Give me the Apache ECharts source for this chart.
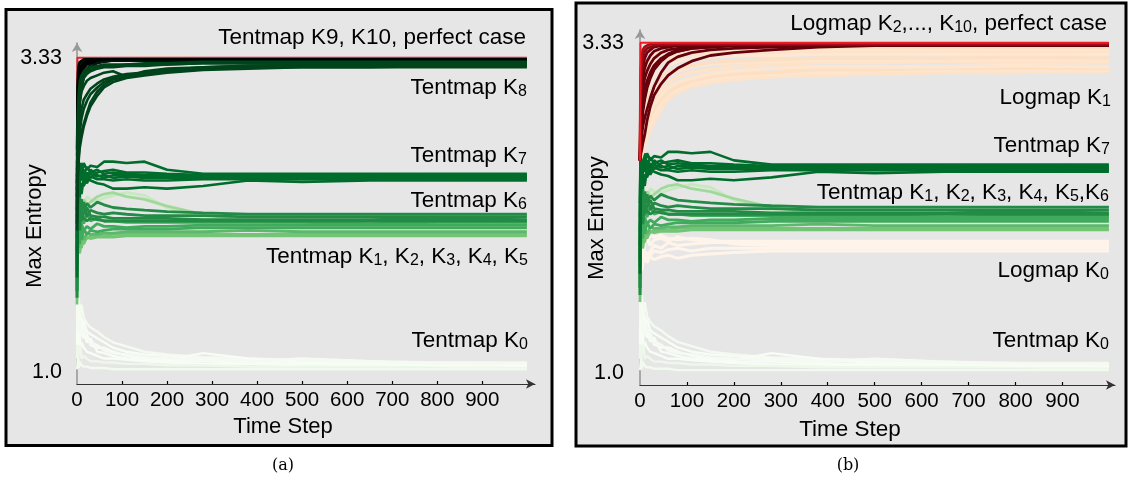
<!DOCTYPE html>
<html><head><meta charset="utf-8">
<script src="https://cdn.jsdelivr.net/npm/echarts@6/dist/echarts.min.js"></script>
<style>html,body{margin:0;padding:0;background:#fff}#c{width:1129px;height:480px}</style>
</head><body><div id="c"></div>
<script>
// ---------- data ----------
const timeSteps = [0, 1, 2, 4, 6, 10, 15, 22, 30, 45, 60, 80, 110, 150, 200, 280, 380, 500, 650, 800, 999];
const xTickLabels = [0, 100, 200, 300, 400, 500, 600, 700, 800, 900];
const yTickValues = [1.0, 3.33];

const perfectCase = [2.50,3.33,3.33,3.33,3.33,3.33,3.33,3.33,3.33,3.33,3.33,3.33,3.33,3.33,3.33,3.33,3.33,3.33,3.33,3.33,3.33];

const tentK0 = [
  [1.58,1.45,1.52,1.40,1.48,1.35,1.38,1.30,1.28,1.25,1.22,1.18,1.15,1.13,1.12,1.10,1.09,1.08,1.07,1.07,1.06],
  [1.55,1.58,1.50,1.55,1.42,1.50,1.40,1.36,1.33,1.30,1.26,1.22,1.19,1.15,1.13,1.11,1.10,1.09,1.08,1.07,1.07],
  [1.30,1.20,1.35,1.25,1.15,1.22,1.18,1.15,1.14,1.12,1.10,1.10,1.09,1.08,1.07,1.06,1.06,1.05,1.05,1.05,1.04],
  [1.10,1.30,1.05,1.20,1.25,1.10,1.12,1.10,1.08,1.08,1.07,1.07,1.06,1.06,1.05,1.05,1.04,1.04,1.04,1.04,1.03],
  [1.45,1.40,1.30,1.45,1.35,1.30,1.25,1.28,1.20,1.18,1.18,1.15,1.12,1.10,1.09,1.14,1.10,1.07,1.06,1.06,1.05],
  [1.02,1.05,1.10,1.03,1.08,1.05,1.04,1.04,1.03,1.03,1.03,1.02,1.02,1.02,1.02,1.02,1.02,1.02,1.02,1.02,1.02],
  [1.20,1.50,1.40,1.30,1.20,1.40,1.30,1.22,1.25,1.15,1.14,1.12,1.10,1.09,1.08,1.08,1.07,1.06,1.06,1.05,1.05],
  [1.60,1.35,1.45,1.30,1.38,1.28,1.32,1.25,1.22,1.20,1.16,1.14,1.13,1.11,1.10,1.09,1.08,1.10,1.08,1.06,1.06]
];
const tentK1toK5 = [
  [1.70,2.15,2.30,2.20,2.32,2.25,2.20,2.30,2.28,2.27,2.29,2.31,2.33,2.31,2.22,2.14,2.11,2.10,2.09,2.09,2.09],
  [1.80,2.35,2.10,2.25,2.15,2.22,2.28,2.24,2.26,2.30,2.32,2.33,2.30,2.28,2.23,2.17,2.12,2.10,2.10,2.10,2.10],
  [1.55,2.05,1.88,2.10,1.98,1.92,2.00,1.99,2.01,2.01,2.01,2.02,2.02,2.02,2.02,2.02,2.02,2.02,2.02,2.02,2.02],
  [1.50,1.85,1.95,1.90,1.88,1.97,1.95,2.00,1.99,2.00,2.00,2.00,2.01,2.01,2.01,2.01,2.01,2.01,2.01,2.01,2.01],
  [1.75,2.30,2.00,1.92,2.05,2.02,1.98,2.03,2.02,2.02,2.03,2.03,2.04,2.04,2.04,2.04,2.05,2.04,2.04,2.04,2.04],
  [1.60,1.95,2.15,2.00,2.10,1.98,2.06,2.02,2.05,2.04,2.05,2.06,2.06,2.06,2.06,2.07,2.07,2.07,2.07,2.07,2.07],
  [1.65,2.20,2.05,2.15,1.95,2.10,2.05,2.08,2.06,2.10,2.08,2.08,2.07,2.08,2.08,2.09,2.09,2.09,2.09,2.09,2.09],
  [1.90,2.45,2.25,2.05,2.20,2.15,2.10,2.18,2.12,2.14,2.12,2.12,2.11,2.11,2.11,2.11,2.11,2.11,2.10,2.11,2.11]
];
const tentK6 = [
  [1.70,2.40,2.20,2.35,2.15,2.28,2.20,2.25,2.22,2.26,2.24,2.22,2.21,2.20,2.19,2.18,2.17,2.17,2.17,2.17,2.17],
  [1.60,2.25,2.38,2.10,2.30,2.18,2.26,2.15,2.20,2.18,2.17,2.18,2.17,2.16,2.16,2.16,2.15,2.15,2.15,2.15,2.15],
  [1.85,2.50,2.15,2.28,2.22,2.12,2.18,2.22,2.16,2.15,2.15,2.14,2.14,2.14,2.14,2.13,2.13,2.13,2.13,2.14,2.13],
  [1.55,2.10,2.30,2.25,2.05,2.20,2.14,2.12,2.14,2.13,2.12,2.12,2.12,2.12,2.12,2.12,2.12,2.12,2.12,2.12,2.12]
];
const tentK7 = [
  [2.00,2.68,2.45,2.55,2.40,2.50,2.46,2.52,2.48,2.50,2.47,2.48,2.47,2.46,2.46,2.45,2.46,2.45,2.45,2.46,2.46],
  [1.80,2.40,2.60,2.35,2.50,2.45,2.55,2.50,2.53,2.52,2.56,2.56,2.55,2.56,2.50,2.47,2.47,2.47,2.47,2.47,2.47],
  [1.70,2.30,2.50,2.42,2.30,2.40,2.38,2.44,2.42,2.40,2.39,2.36,2.36,2.37,2.36,2.38,2.42,2.41,2.42,2.42,2.42],
  [2.10,2.55,2.35,2.48,2.52,2.42,2.50,2.45,2.47,2.45,2.46,2.44,2.45,2.44,2.44,2.44,2.44,2.44,2.44,2.44,2.44],
  [1.90,2.50,2.62,2.40,2.45,2.55,2.42,2.48,2.44,2.48,2.49,2.50,2.48,2.48,2.47,2.46,2.45,2.46,2.46,2.45,2.45],
  [1.75,2.35,2.25,2.45,2.38,2.32,2.44,2.40,2.45,2.43,2.43,2.42,2.43,2.42,2.42,2.43,2.43,2.43,2.43,2.43,2.43],
  [2.20,2.60,2.50,2.30,2.55,2.48,2.40,2.42,2.50,2.46,2.44,2.46,2.46,2.45,2.45,2.45,2.45,2.46,2.44,2.45,2.44]
];
const tentK8 = [
  [2.20,2.45,2.60,2.75,2.85,2.95,3.02,3.06,3.10,3.14,3.17,3.19,3.21,3.22,3.24,3.26,3.27,3.27,3.28,3.28,3.28],
  [2.10,2.35,2.50,2.62,2.70,2.78,2.84,2.92,3.00,3.08,3.13,3.17,3.19,3.21,3.23,3.25,3.26,3.27,3.27,3.27,3.27],
  [2.30,2.60,2.80,2.95,3.05,3.12,3.18,3.21,3.23,3.25,3.26,3.26,3.27,3.27,3.28,3.29,3.29,3.29,3.29,3.29,3.29],
  [2.25,2.55,2.75,2.90,3.00,3.08,3.12,3.16,3.18,3.20,3.22,3.23,3.19,3.23,3.25,3.26,3.27,3.28,3.28,3.28,3.28],
  [2.40,2.75,2.95,3.08,3.15,3.20,3.23,3.25,3.26,3.27,3.28,3.28,3.28,3.29,3.29,3.30,3.30,3.30,3.30,3.30,3.30],
  [2.15,2.40,2.55,2.68,2.78,2.88,2.95,3.01,3.06,3.11,3.15,3.18,3.20,3.22,3.24,3.25,3.26,3.26,3.26,3.26,3.26],
  [2.35,2.65,2.85,3.00,3.10,3.16,3.20,3.23,3.24,3.26,3.27,3.27,3.28,3.28,3.28,3.29,3.29,3.29,3.29,3.29,3.29],
  [2.05,2.30,2.45,2.58,2.66,2.74,2.82,2.90,2.97,3.05,3.11,3.15,3.18,3.20,3.22,3.24,3.25,3.26,3.26,3.27,3.27]
];
const tentK9K10 = [
  [2.50,2.90,3.10,3.20,3.26,3.29,3.30,3.31,3.31,3.32,3.32,3.32,3.32,3.32,3.32,3.32,3.32,3.32,3.32,3.32,3.32],
  [2.40,2.70,2.95,3.10,3.18,3.24,3.27,3.29,3.30,3.31,3.31,3.31,3.31,3.31,3.31,3.31,3.31,3.31,3.31,3.31,3.31],
  [2.60,3.00,3.15,3.25,3.28,3.30,3.31,3.31,3.32,3.32,3.32,3.32,3.32,3.32,3.32,3.32,3.32,3.32,3.32,3.32,3.32],
  [2.45,2.80,3.05,3.15,3.22,3.27,3.29,3.30,3.31,3.31,3.31,3.32,3.32,3.32,3.32,3.32,3.32,3.32,3.32,3.32,3.32],
  [2.55,2.60,2.75,2.90,3.05,3.15,3.22,3.25,3.28,3.30,3.30,3.31,3.31,3.31,3.31,3.31,3.31,3.31,3.31,3.31,3.31],
  [2.35,2.65,2.85,3.00,3.10,3.18,3.25,3.28,3.29,3.30,3.31,3.31,3.31,3.31,3.31,3.31,3.31,3.31,3.31,3.31,3.31],
  [2.30,2.55,2.70,2.85,2.98,3.10,3.18,3.23,3.26,3.29,3.30,3.31,3.31,3.31,3.31,3.31,3.31,3.31,3.31,3.31,3.31],
  [2.65,3.10,3.22,3.28,3.30,3.31,3.32,3.32,3.32,3.32,3.32,3.32,3.32,3.32,3.32,3.32,3.32,3.32,3.32,3.32,3.32]
];
const logK0 = [
  [1.65,1.75,1.85,1.80,1.90,1.85,1.80,1.86,1.90,1.88,1.92,1.90,1.91,1.92,1.92,1.92,1.92,1.92,1.92,1.92,1.92],
  [1.70,1.90,1.78,1.95,1.82,1.92,1.96,1.90,1.94,1.95,1.93,1.96,1.94,1.93,1.93,1.93,1.93,1.93,1.93,1.93,1.93],
  [1.60,1.70,1.80,1.72,1.78,1.80,1.78,1.82,1.80,1.82,1.83,1.81,1.83,1.84,1.85,1.86,1.86,1.86,1.86,1.86,1.86],
  [1.75,1.95,1.88,1.98,1.94,1.98,1.92,1.97,1.96,1.97,1.95,1.94,1.95,1.94,1.91,1.90,1.90,1.90,1.90,1.90,1.90],
  [1.68,1.82,1.75,1.85,1.88,1.80,1.85,1.83,1.86,1.85,1.87,1.88,1.86,1.88,1.88,1.88,1.88,1.88,1.88,1.88,1.88]
];
const logK1 = [
  [2.50,2.50,2.52,2.54,2.56,2.60,2.65,2.71,2.77,2.86,2.93,2.98,3.02,3.05,3.07,3.09,3.10,3.11,3.12,3.12,3.13],
  [2.50,2.51,2.54,2.57,2.60,2.64,2.70,2.76,2.82,2.90,2.96,3.00,3.04,3.07,3.09,3.11,3.12,3.13,3.14,3.14,3.14],
  [2.50,2.53,2.57,2.60,2.63,2.68,2.74,2.80,2.86,2.93,2.98,3.02,3.06,3.09,3.11,3.12,3.14,3.14,3.15,3.15,3.15],
  [2.50,2.54,2.58,2.62,2.66,2.72,2.78,2.84,2.90,2.96,3.01,3.05,3.08,3.11,3.13,3.15,3.16,3.16,3.16,3.17,3.16],
  [2.50,2.55,2.60,2.65,2.70,2.76,2.82,2.88,2.94,3.00,3.05,3.09,3.12,3.14,3.16,3.18,3.19,3.19,3.20,3.19,3.19],
  [2.50,2.56,2.62,2.68,2.74,2.80,2.87,2.94,3.00,3.06,3.10,3.13,3.16,3.18,3.19,3.20,3.21,3.21,3.21,3.21,3.21],
  [2.50,2.58,2.65,2.72,2.78,2.85,2.92,2.98,3.03,3.08,3.12,3.15,3.17,3.19,3.20,3.21,3.22,3.22,3.22,3.23,3.22],
  [2.50,2.60,2.68,2.76,2.84,2.92,2.99,3.05,3.10,3.14,3.17,3.20,3.22,3.23,3.24,3.24,3.25,3.25,3.25,3.25,3.25],
  [2.50,2.62,2.72,2.82,2.90,2.98,3.05,3.11,3.15,3.19,3.22,3.24,3.25,3.26,3.26,3.27,3.27,3.27,3.27,3.27,3.27],
  [2.50,2.64,2.76,2.86,2.95,3.03,3.10,3.16,3.20,3.23,3.25,3.26,3.27,3.28,3.28,3.28,3.28,3.28,3.29,3.28,3.28],
  [2.50,2.70,2.85,2.95,3.05,3.12,3.18,3.22,3.25,3.27,3.28,3.29,3.29,3.30,3.30,3.30,3.30,3.30,3.30,3.30,3.30]
];
const logK2toK10 = [
  [2.50,2.52,2.55,2.58,2.62,2.68,2.78,2.88,2.96,3.04,3.10,3.15,3.20,3.24,3.26,3.28,3.30,3.31,3.31,3.31,3.31],
  [2.50,2.53,2.60,2.68,2.74,2.80,2.86,2.94,3.02,3.12,3.19,3.23,3.26,3.28,3.29,3.30,3.31,3.31,3.31,3.31,3.31],
  [2.50,2.55,2.65,2.75,2.84,2.93,3.01,3.08,3.14,3.20,3.24,3.27,3.29,3.30,3.31,3.31,3.31,3.31,3.31,3.31,3.31],
  [2.50,2.58,2.70,2.80,2.88,2.97,3.04,3.10,3.15,3.21,3.25,3.28,3.30,3.31,3.32,3.32,3.32,3.32,3.32,3.32,3.32],
  [2.50,2.60,2.75,2.85,2.92,3.00,3.06,3.12,3.17,3.22,3.25,3.27,3.29,3.30,3.31,3.31,3.32,3.32,3.32,3.32,3.32],
  [2.50,2.65,2.82,2.93,3.00,3.08,3.13,3.18,3.22,3.26,3.28,3.29,3.30,3.31,3.31,3.31,3.31,3.31,3.31,3.31,3.31],
  [2.50,2.70,2.90,3.00,3.08,3.15,3.20,3.24,3.27,3.29,3.30,3.31,3.31,3.32,3.32,3.32,3.32,3.32,3.32,3.32,3.32],
  [2.50,2.75,2.95,3.08,3.15,3.22,3.26,3.28,3.30,3.31,3.31,3.32,3.32,3.32,3.32,3.32,3.32,3.32,3.32,3.32,3.32],
  [2.50,2.85,3.05,3.15,3.22,3.27,3.29,3.30,3.31,3.32,3.32,3.32,3.32,3.32,3.32,3.32,3.32,3.32,3.32,3.32,3.32],
  [2.50,3.00,3.15,3.24,3.28,3.30,3.31,3.32,3.32,3.32,3.32,3.32,3.32,3.32,3.32,3.32,3.32,3.32,3.32,3.32,3.32]
];

// ---------- styling ----------
const FONT = 'Liberation Sans';
const colK0 = ['#f7fcf5', '#f3faf0', '#f7fcf5', '#eef8ea', '#f7fcf5', '#f2f9ef', '#f7fcf5', '#f5fbf2'];
const colK15 = ['#c7e9c0', '#a1d99b', '#74c476', '#74c476', '#5cb96b', '#41ab5d', '#41ab5d', '#41ab5d'];
const colK6 = '#238b45', colK7 = '#006d2c', colK8 = '#00441b';
const colK910 = ['#03170c', '#000000', '#03170c', '#000000', '#062612', '#000000', '#03170c', '#000000'];
const colL0 = '#fff4ea';
const colL1 = ['#fee3c8', '#fee6ce', '#fde0c4', '#fee6ce', '#fee3c8', '#fee6ce', '#fde0c4', '#fee8d2', '#fee3c8', '#fee6ce', '#fde0c4'];
const colL2 = ['#67000d', '#67000d', '#5a0008', '#6e000e', '#67000d', '#67000d', '#67000d', '#7a0010', '#8a0a12', '#a50f15'];
const colRed = '#ee1c24';

function mk(g, line, color, width) {
  return {
    type: 'line', xAxisIndex: g, yAxisIndex: g,
    data: timeSteps.map((t, i) => [t, line[i]]),
    showSymbol: false, symbol: 'none', silent: true, animation: false,
    lineStyle: { color: color, width: width || 2 }
  };
}

const series = [];
// panel (a)
tentK0.forEach((l, i) => series.push(mk(0, l, colK0[i], 2.4)));
tentK1toK5.forEach((l, i) => series.push(mk(0, l, colK15[i], 2.8)));
tentK6.forEach(l => series.push(mk(0, l, colK6, 2.8)));
tentK7.forEach(l => series.push(mk(0, l, colK7, 2.6)));
series.push(mk(0, perfectCase, colRed, 2));
tentK9K10.forEach((l, i) => series.push(mk(0, l, colK910[i], 2.4)));
tentK8.forEach(l => series.push(mk(0, l, colK8, 2.6)));
// panel (b)
logK0.forEach(l => series.push(mk(1, l, colL0, 3)));
tentK0.forEach((l, i) => series.push(mk(1, l, colK0[i], 2.4)));
tentK1toK5.forEach((l, i) => series.push(mk(1, l, colK15[i], 2.8)));
tentK6.forEach(l => series.push(mk(1, l, colK6, 2.8)));
tentK7.forEach(l => series.push(mk(1, l, colK7, 2.6)));
logK1.forEach((l, i) => series.push(mk(1, l, colL1[i], 3.5)));
logK2toK10.forEach((l, i) => series.push(mk(1, l, colL2[i], 2.8)));
series.push(mk(1, perfectCase, colRed, 2));

function xAx(g, max) {
  return {
    gridIndex: g, type: 'value', min: 0, max: max, interval: 100,
    axisLine: { show: true, lineStyle: { color: '#333', width: 1.2 }, symbol: ['none', 'arrow'], symbolSize: [7, 9] },
    axisTick: { show: true, inside: true, length: 3, customValues: xTickLabels.slice(1), lineStyle: { color: '#000', width: 1.2 } },
    axisLabel: { customValues: xTickLabels, fontSize: 20.5, fontFamily: FONT, color: '#000', margin: 6 },
    splitLine: { show: false }
  };
}
function yAx(g, min, max, margin) {
  return {
    gridIndex: g, type: 'value', min: min, max: max,
    axisLine: { show: true, onZero: false, lineStyle: { color: '#999', width: 1.6 }, symbol: ['none', 'arrow'], symbolSize: [8, 9] },
    axisTick: { show: false },
    axisLabel: { customValues: yTickValues, formatter: v => (v === 1 ? '1.0' : String(v)), fontSize: 21.5, fontFamily: FONT, color: '#000', margin: margin },
    splitLine: { show: false }
  };
}

const richSub = { s: { fontSize: 16, fontFamily: FONT, verticalAlign: 'bottom', fill: '#000' } };
function label(x, y, text) {
  return {
    type: 'text', x: x, y: y, z: 100,
    style: { text: text, font: '22.5px "Liberation Sans"', fill: '#000', align: 'right', textAlign: 'right', verticalAlign: 'middle', textVerticalAlign: 'middle', rich: richSub }
  };
}
function plain(x, y, text, font, rot) {
  return {
    type: 'text', x: x, y: y, z: 100, rotation: rot || 0,
    style: { text: text, font: font, fill: '#000', align: 'center', textAlign: 'center', verticalAlign: 'middle', textVerticalAlign: 'middle' }
  };
}

const option = {
  animation: false,
  backgroundColor: '#ffffff',
  grid: [
    { left: 77, top: 43, width: 458, height: 341 },
    { left: 640, top: 30, width: 475, height: 355 }
  ],
  xAxis: [xAx(0, 1017), xAx(1, 1012)],
  yAxis: [yAx(0, 0.911, 3.44, 15), yAx(1, 0.915, 3.42, 16)],
  series: series,
  graphic: [
    { type: 'rect', z: -10, shape: { x: 6, y: 9.5, width: 546, height: 436 }, style: { fill: '#e6e6e6', stroke: '#000', lineWidth: 3 } },
    { type: 'rect', z: -10, shape: { x: 576, y: 3, width: 550, height: 443 }, style: { fill: '#e6e6e6', stroke: '#000', lineWidth: 3 } },
    label(526, 38, 'Tentmap K9, K10, perfect case'),
    label(527, 88, 'Tentmap K{s|8}'),
    label(527, 156, 'Tentmap K{s|7}'),
    label(527, 201, 'Tentmap K{s|6}'),
    label(528, 257, 'Tentmap K{s|1}, K{s|2}, K{s|3}, K{s|4}, K{s|5}'),
    label(528, 341, 'Tentmap K{s|0}'),
    label(1107, 24, 'Logmap K{s|2},..., K{s|10}, perfect case'),
    label(1111, 98, 'Logmap K{s|1}'),
    label(1110, 146, 'Tentmap K{s|7}'),
    label(1109, 193, 'Tentmap K{s|1}, K{s|2}, K{s|3}, K{s|4}, K{s|5},K{s|6}'),
    label(1109, 271, 'Logmap K{s|0}'),
    label(1109, 341, 'Tentmap K{s|0}'),
    plain(35, 226, 'Max Entropy', '22px "Liberation Sans"', Math.PI / 2),
    plain(597, 218, 'Max Entropy', '22px "Liberation Sans"', Math.PI / 2),
    plain(283, 427, 'Time Step', '22px "Liberation Sans"'),
    plain(850, 430, 'Time Step', '22.5px "Liberation Sans"'),
    plain(283, 466, '(a)', '16px "DejaVu Serif"'),
    plain(848, 466, '(b)', '16px "DejaVu Serif"')
  ]
};
const chart = echarts.init(document.getElementById('c'), null, { renderer: 'canvas' });
chart.setOption(option);
</script></body></html>
